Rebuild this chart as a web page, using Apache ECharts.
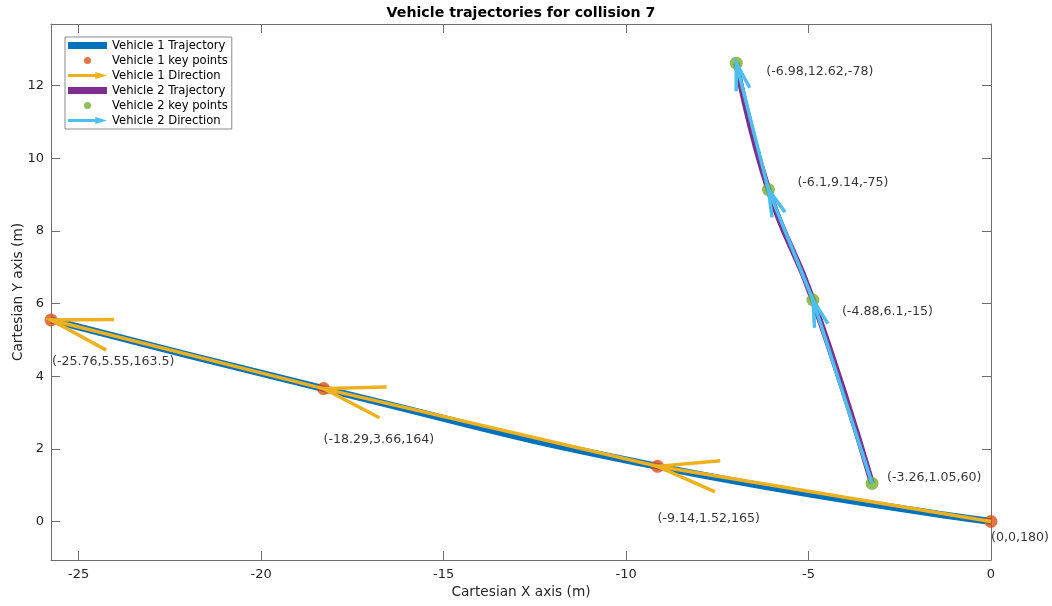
<!DOCTYPE html>
<html><head><meta charset="utf-8">
<script src="https://cdn.jsdelivr.net/npm/echarts@6/dist/echarts.min.js"></script>
<style>html,body{margin:0;padding:0;background:#fff}#c{width:1052px;height:606px}</style>
</head><body><div id="c"></div>
<script>
// ---- data ----
const v1X = [0, -9.14, -18.29, -25.76];
const v1Y = [0, 1.52, 3.66, 5.55];
const v1H = [180, 165, 164, 163.5];
const v2X = [-3.26, -4.88, -6.1, -6.98];
const v2Y = [1.05, 6.1, 9.14, 12.62];
const v2H = [60, -15, -75, -78];
const xTicks = [-25, -20, -15, -10, -5, 0];
const yTicks = [0, 2, 4, 6, 8, 10, 12];
const xRange = [-25.76, 0];
const yRange = [-1.06, 13.7];

// ---- label pixel offsets (styling) ----
const v1LabelOffset = [[0, 16], [0, 52], [0, 51], [1, 42]];
const v2LabelOffset = [[15, -6], [29, 12], [29, -7], [30, 8]];

const C = {
  blue: '#0072BD', orange: '#D95319', yellow: '#EDB120',
  purple: '#7E2F8E', green: '#77AC30', cyan: '#4DBEEE',
  axis: '#6e6e6e', text: '#262626'
};
const FONT = 'DejaVu Sans';

function pts(xs, ys) { return xs.map((x, i) => [x, ys[i]]); }

function keyPoints(name, xs, ys, hs, offs, color) {
  return {
    name, type: 'scatter', z: 3, symbolSize: 13,
    itemStyle: { color },
    data: xs.map((x, i) => ({
      value: [x, ys[i], hs[i]],
      label: { position: [6.5 + offs[i][0], 6.5 + offs[i][1]] }
    })),
    label: {
      show: true, align: 'left', verticalAlign: 'middle',
      fontFamily: FONT, fontSize: 12.6, color: '#000',
      formatter: p => '(' + p.value[0] + ',' + p.value[1] + ',' + p.value[2] + ')'
    },
    emphasis: { disabled: true }
  };
}

function arrows(name, xs, ys, color, headLen) {
  const data = [];
  for (let i = 0; i < xs.length - 1; i++) data.push([xs[i], ys[i], xs[i + 1], ys[i + 1]]);
  const h = 14.5 * Math.PI / 180;
  return {
    name, type: 'custom', z: 4, data,
    itemStyle: { color },
    encode: { x: [0, 2], y: [1, 3] },
    renderItem(params, api) {
      const p0 = api.coord([api.value(0), api.value(1)]);
      const p1 = api.coord([api.value(2), api.value(3)]);
      const a = Math.atan2(p0[1] - p1[1], p0[0] - p1[0]);
      const b1 = [p1[0] + headLen * Math.cos(a + h), p1[1] + headLen * Math.sin(a + h)];
      const b2 = [p1[0] + headLen * Math.cos(a - h), p1[1] + headLen * Math.sin(a - h)];
      return {
        type: 'group', children: [
          { type: 'polyline', shape: { points: [p0, p1] }, style: { stroke: color, lineWidth: 3.5, fill: null } },
          { type: 'polyline', shape: { points: [b1, p1, b2] }, style: { stroke: color, lineWidth: 3.5, fill: null } }
        ]
      };
    }
  };
}

function traj(name, xs, ys, color, w) {
  return {
    name, type: 'line', z: 2, data: pts(xs, ys), smooth: 0.5,
    symbol: 'none', showSymbol: false, clip: false,
    lineStyle: { color, width: w }, itemStyle: { color },
    emphasis: { disabled: true }
  };
}

const arrowIcon = 'path://M0,2L28,2L28,0L40,3.5L28,7L28,5L0,5Z';

const axisCommon = {
  axisLine: { show: true, onZero: false, lineStyle: { color: C.axis, width: 1 } },
  splitLine: { show: false }
};

const option = {
  animation: false,
  backgroundColor: '#fff',
  title: {
    text: 'Vehicle trajectories for collision 7',
    left: 521, top: 6, textAlign: 'center', padding: 0,
    textStyle: { fontFamily: FONT, fontSize: 14.2, fontWeight: 'bold', color: '#000' }
  },
  grid: { left: 51, right: 61, top: 24, bottom: 46, containLabel: false, outerBoundsMode: 'none' },
  xAxis: [
    Object.assign({
      type: 'value', position: 'bottom', min: xRange[0], max: xRange[1],
      name: 'Cartesian X axis (m)', nameLocation: 'middle', nameGap: 25,
      nameTextStyle: { fontFamily: FONT, fontSize: 13.7, color: C.text },
      axisTick: { show: true, inside: true, length: 9, customValues: xTicks, lineStyle: { color: C.axis } },
      axisLabel: { customValues: xTicks, margin: 8, fontFamily: FONT, fontSize: 13, color: C.text }
    }, axisCommon),
    Object.assign({
      type: 'value', position: 'top', min: xRange[0], max: xRange[1],
      axisTick: { show: true, inside: true, length: 9, customValues: xTicks, lineStyle: { color: C.axis } },
      axisLabel: { show: false }
    }, axisCommon)
  ],
  yAxis: [
    Object.assign({
      type: 'value', position: 'left', min: yRange[0], max: yRange[1],
      name: 'Cartesian Y axis (m)', nameLocation: 'middle', nameGap: 26, nameMoveOverlap: false,
      nameTextStyle: { fontFamily: FONT, fontSize: 13.7, color: C.text },
      axisTick: { show: true, inside: true, length: 9, customValues: yTicks, lineStyle: { color: C.axis } },
      axisLabel: { customValues: yTicks, margin: 7, fontFamily: FONT, fontSize: 13, color: C.text }
    }, axisCommon),
    Object.assign({
      type: 'value', position: 'right', min: yRange[0], max: yRange[1],
      axisTick: { show: true, inside: true, length: 9, customValues: yTicks, lineStyle: { color: C.axis } },
      axisLabel: { show: false }
    }, axisCommon)
  ],
  legend: {
    orient: 'vertical', left: 65, top: 37,
    padding: [1, 4, 1, 3], itemGap: 0, itemWidth: 39, itemHeight: 7, itemTextGap: 2,
    backgroundColor: '#fff', borderColor: '#8a8a8a', borderWidth: 1, borderRadius: 0,
    selectedMode: false, z: 10,
    itemStyle: { borderWidth: 0 },
    textStyle: { fontFamily: FONT, fontSize: 11.6, color: '#000', lineHeight: 15 },
    data: [
      { name: 'Vehicle 1 Trajectory', icon: 'rect' },
      { name: 'Vehicle 1 key points', icon: 'circle' },
      { name: 'Vehicle 1 Direction', icon: arrowIcon },
      { name: 'Vehicle 2 Trajectory', icon: 'rect' },
      { name: 'Vehicle 2 key points', icon: 'circle' },
      { name: 'Vehicle 2 Direction', icon: arrowIcon }
    ]
  },
  series: [
    traj('Vehicle 1 Trajectory', v1X, v1Y, C.blue, 7),
    keyPoints('Vehicle 1 key points', v1X, v1Y, v1H, v1LabelOffset, C.orange),
    arrows('Vehicle 1 Direction', v1X, v1Y, C.yellow, 63),
    traj('Vehicle 2 Trajectory', v2X, v2Y, C.purple, 6),
    keyPoints('Vehicle 2 key points', v2X, v2Y, v2H, v2LabelOffset, C.green),
    arrows('Vehicle 2 Direction', v2X, v2Y, C.cyan, 28)
  ]
};

const chart = echarts.init(document.getElementById('c'), null, { renderer: 'canvas' });
chart.setOption(option);
</script>
</body></html>
